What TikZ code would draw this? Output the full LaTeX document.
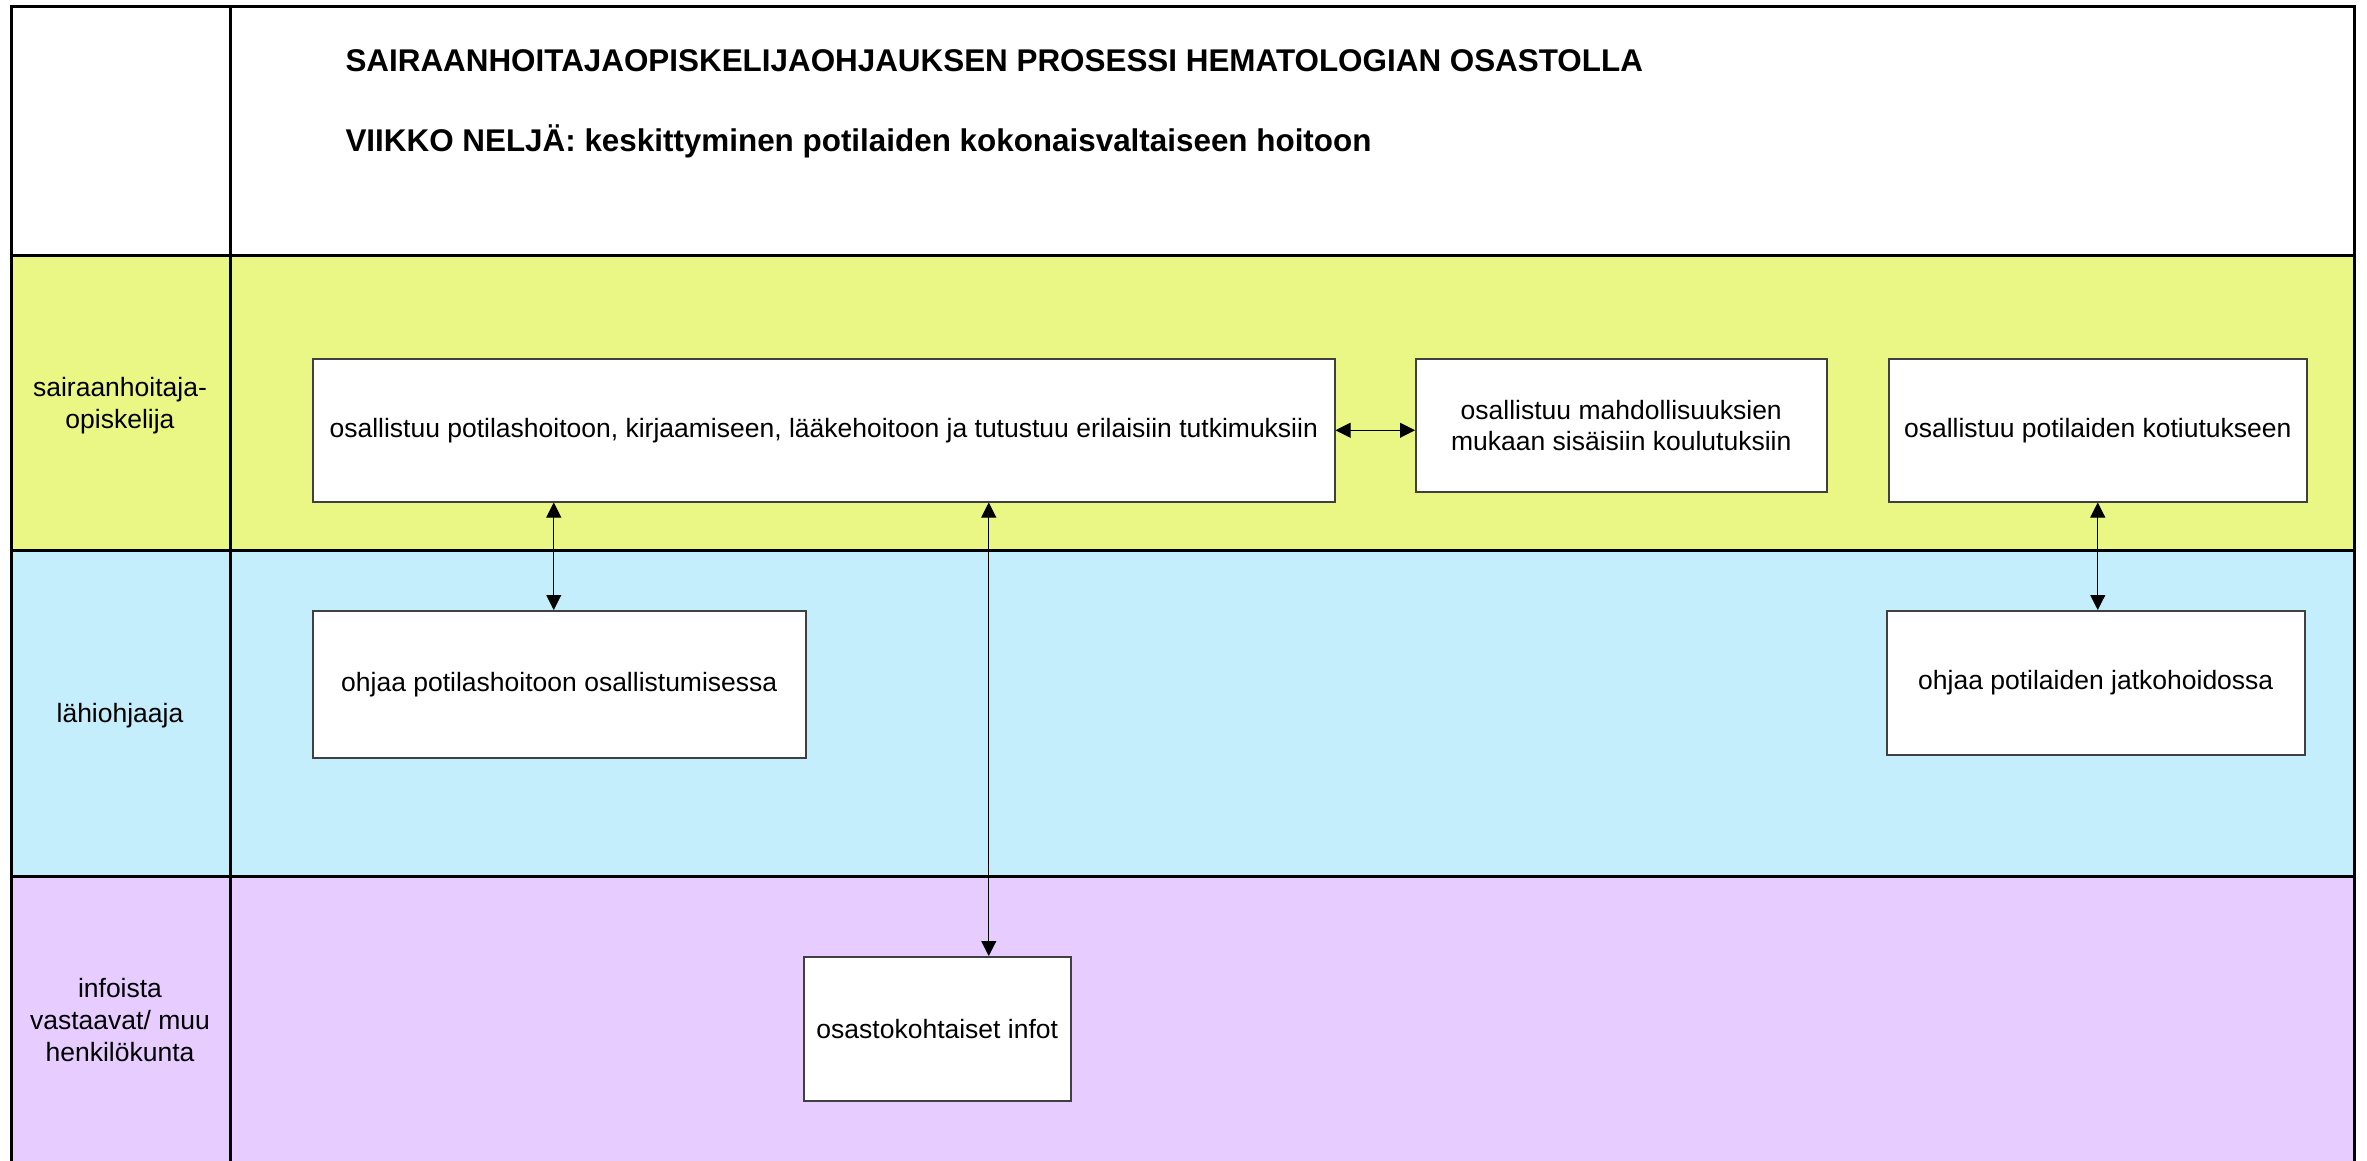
\documentclass[tikz,border=0pt]{standalone}
\usepackage{fontspec}
\setmainfont{Liberation Sans}
\usetikzlibrary{arrows.meta}
\definecolor{kelta}{HTML}{EBF784}
\definecolor{sini}{HTML}{C4EEFB}
\definecolor{lila}{HTML}{E6CCFF}
\begin{document}
\begin{tikzpicture}[x=1pt,y=-1pt,
	frame/.style={line width=3pt,black},
	laatikko/.style={draw=black!75,line width=1.5pt,fill=white,anchor=north west,inner sep=0pt,align=center,font=\fontsize{26.5}{31}\selectfont},
	kaista/.style={align=center,font=\fontsize{26.5}{32}\selectfont},
	otsikko/.style={anchor=base west,font=\fontsize{31.4}{36}\selectfont\bfseries},
	nuoli/.style={{Triangle[length=15pt,width=15pt]}-{Triangle[length=15pt,width=15pt]},line width=1pt}]
	\useasboundingbox (0,0) rectangle (2367,1160);
	\fill[white] (11,6) rectangle (2354,255);
	\fill[kelta] (11,255) rectangle (2354,550);
	\fill[sini] (11,550) rectangle (2354,876);
	\fill[lila] (11,876) rectangle (2354,1175);
	\draw[frame] (11,1175) -- (11,6) -- (2354,6) -- (2354,1175);
	\foreach \y in {255,550,876}
		\draw[frame] (11,\y) -- (2354,\y);
	\draw[frame] (230,6) -- (230,1175);
	\node[otsikko] (t1) at (342,71) {SAIRAANHOITAJAOPISKELIJAOHJAUKSEN PROSESSI HEMATOLOGIAN OSASTOLLA};
	\node[otsikko] (t2) at (342,151) {VIIKKO NELJÄ: keskittyminen potilaiden kokonaisvaltaiseen hoitoon};
	\node[kaista] (k1) at (120,406) {sairaanhoitaja-\\opiskelija};
	\node[kaista] (k2) at (120,716) {lähiohjaaja};
	\node[kaista] (k3) at (120,1020) {infoista\\vastaavat/ muu\\henkilökunta};
	\node[laatikko,minimum width=1022pt,minimum height=143pt] (a) at (312,358) {osallistuu potilashoitoon, kirjaamiseen, lääkehoitoon ja tutustuu erilaisiin tutkimuksiin};
	\node[laatikko,minimum width=411pt,minimum height=133pt] (b) at (1415,358) {osallistuu mahdollisuuksien\\mukaan sisäisiin koulutuksiin};
	\node[laatikko,minimum width=418pt,minimum height=143pt] (c) at (1888,358) {osallistuu potilaiden kotiutukseen};
	\node[laatikko,minimum width=493pt,minimum height=147pt] (d) at (312,610) {ohjaa potilashoitoon osallistumisessa};
	\node[laatikko,minimum width=418pt,minimum height=144pt] (e) at (1886,610) {ohjaa potilaiden jatkohoidossa};
	\node[laatikko,minimum width=267pt,minimum height=144pt] (f) at (803,956) {osastokohtaiset infot};
	\coordinate (d1) at ([xshift=-5.5pt]d.north);
	\coordinate (f1) at ([xshift=51.5pt]f.north);
	\draw[nuoli] (a.east) -- (a.east -| b.west);
	\draw[nuoli] (d1 |- a.south) -- (d1);
	\draw[nuoli] (f1 |- a.south) -- (f1);
	\draw[nuoli] (c.south) -- (c.south |- e.north);
\end{tikzpicture}
\end{document}
